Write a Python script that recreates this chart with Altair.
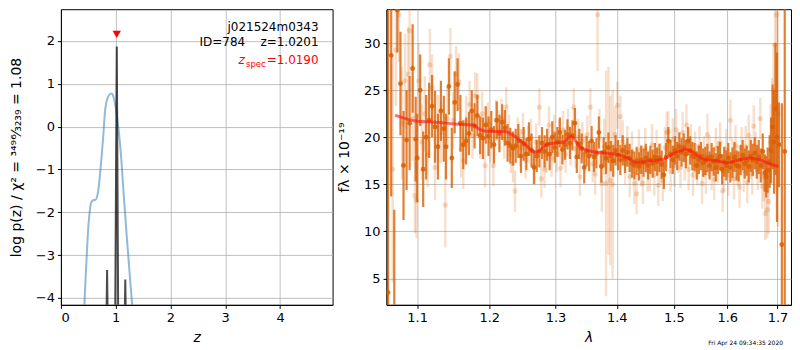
import altair as alt
import pandas as pd

# ---------------- left panel: redshift PDF ----------------
Z_PRIOR = [0.40, 0.43, 0.46, 0.49, 0.52, 0.55, 0.59, 0.63, 0.675, 0.72, 0.77, 0.81, 0.86, 0.90,
           0.92, 0.96, 1.00, 1.02, 1.05, 1.08, 1.11, 1.14, 1.17, 1.20, 1.235, 1.27, 1.30, 1.32]
LOGP_PRIOR = [-5.5, -4.14, -3.3, -2.54, -2.05, -1.78, -1.72, -1.71, -1.55, -1.02, -0.26, 0.42, 0.69, 0.76,
              0.77, 0.69, 0.45, 0.27, -0.05, -0.41, -0.9, -1.48, -2.0, -2.54, -3.1, -3.68, -4.16, -4.6]

Z_PZ = [0.78, 0.826, 0.843, 0.858, 0.90, 0.96, 0.99, 1.02, 1.046, 1.08, 1.14, 1.16, 1.175, 1.19, 1.22]
LOGP_PZ = [-9.0, -5.0, -3.35, -5.0, -9.0, -9.0, -4.6, 1.87, -4.6, -9.0, -9.0, -5.0, -3.57, -5.0, -9.0]

ZSPEC_X = [1.019]
ZSPEC_Y = [2.15]

Z_TICKS = [0, 1, 2, 3, 4]
LOGP_TICKS = [-4, -3, -2, -1, 0, 1, 2]

ANNOT_LINES = ["j021524m0343", "ID=784\u00a0\u00a0\u00a0\u00a0z=1.0201"]
ZSPEC_TEXT = ["z", "spec", "=1.0190"]
DATE_TEXT = ["Fri Apr 24 09:34:35 2020"]

# ---------------- right panel: spectrum ----------------
DARK_WAVE = [1.062, 1.066, 1.070, 1.074, 1.078, 1.082, 1.086, 1.090, 1.094, 1.098,
             1.100, 1.104, 1.108, 1.112, 1.116, 1.120, 1.124, 1.128, 1.132, 1.136,
             1.139, 1.143, 1.147, 1.151, 1.155, 1.159, 1.163, 1.167, 1.171, 1.175,
             1.179, 1.183, 1.187, 1.191, 1.195, 1.199, 1.203, 1.207, 1.211, 1.215,
             1.219, 1.223, 1.227, 1.231, 1.235, 1.239, 1.243, 1.247, 1.251, 1.255,
             1.259, 1.263, 1.267, 1.271, 1.275, 1.279, 1.283, 1.287, 1.291, 1.295,
             1.299, 1.303, 1.307, 1.311, 1.315, 1.319, 1.323, 1.327, 1.331, 1.334,
             1.338, 1.342, 1.346, 1.350, 1.354, 1.358, 1.362, 1.366, 1.370, 1.374,
             1.378, 1.382, 1.386, 1.390, 1.394, 1.398, 1.402, 1.406, 1.410, 1.414,
             1.418, 1.422, 1.426, 1.430, 1.434, 1.438, 1.442, 1.446, 1.450, 1.454,
             1.458, 1.462, 1.466, 1.470, 1.474, 1.478, 1.482, 1.486, 1.490, 1.494,
             1.498, 1.502, 1.506, 1.510, 1.514, 1.518, 1.522, 1.526, 1.530, 1.534,
             1.538, 1.542, 1.546, 1.550, 1.554, 1.558, 1.562, 1.566, 1.570, 1.574,
             1.578, 1.582, 1.586, 1.590, 1.594, 1.598, 1.602, 1.606, 1.610, 1.614,
             1.618, 1.622, 1.626, 1.630, 1.634, 1.638, 1.642, 1.646, 1.650, 1.654,
             1.658, 1.662, 1.666, 1.670, 1.674, 1.677, 1.680, 1.684, 1.687, 1.690,
             1.693, 1.696, 1.699, 1.703, 1.709, 1.715]
DARK_FLUX = [3.5, 28.7, 0.0, 33.5, 25.7, 17.0, 19.7, 21.5, 27.3, 19.8,
             17.8, 25.0, 16.6, 20.0, 21.8, 23.3, 21.1, 19.0, 22.8, 20.9,
             19.0, 25.4, 17.8, 23.7, 25.6, 21.5, 19.2, 19.6, 20.4, 22.8,
             21.2, 22.3, 20.2, 19.9, 21.3, 20.1, 20.8, 19.2, 21.8, 20.4,
             21.6, 21.0, 19.4, 19.1, 18.8, 19.1, 19.6, 18.0, 19.3, 18.2,
             19.8, 18.6, 16.8, 18.0, 18.5, 19.4, 18.5, 19.2, 18.2, 20.0,
             18.9, 19.5, 20.5, 18.7, 19.2, 20.3, 19.4, 20.2, 21.5, 17.9,
             19.3, 18.8, 16.8, 18.5, 18.0, 19.6, 17.9, 18.3, 20.5, 16.9,
             18.4, 17.8, 18.9, 18.0, 17.5, 18.6, 18.1, 17.6, 18.6, 17.7,
             18.4, 17.8, 17.2, 17.0, 17.5, 16.9, 17.6, 17.3, 17.8, 17.0,
             17.6, 17.2, 17.9, 17.4, 17.8, 17.1, 16.0, 17.9, 19.6, 18.2,
             17.6, 18.6, 18.0, 19.0, 18.4, 18.9, 18.2, 19.6, 18.6, 18.0,
             17.9, 17.0, 17.6, 18.0, 17.3, 17.5, 17.8, 17.0, 17.9, 17.4,
             16.8, 17.6, 18.0, 16.6, 17.4, 17.0, 17.8, 16.8, 17.3, 17.9,
             17.0, 16.9, 17.6, 18.1, 17.2, 17.5, 16.9, 18.0, 17.6, 18.3,
             17.4, 17.9, 17.0, 18.5, 16.2, 15.8, 16.5, 17.4, 18.6, 21.1,
             19.5, 23.0, 20.0, 19.2, 8.6, 18.5]
DARK_ERR = [30.0, 15.0, 12.3, 4.5, 5.5, 5.8, 5.3, 5.0, 4.7, 4.5,
            4.7, 3.8, 4.0, 4.5, 4.0, 3.3, 3.8, 3.5, 3.2, 3.5,
            3.5, 3.0, 3.2, 3.3, 2.8, 3.0, 2.6, 2.5, 2.3, 2.2,
            2.4, 2.2, 2.0, 2.2, 2.0, 2.1, 2.0, 2.0, 2.0, 2.0,
            1.9, 1.9, 2.0, 1.9, 1.8, 1.8, 1.8, 1.8, 1.8, 1.7,
            1.8, 1.8, 1.8, 1.7, 1.7, 1.7, 1.7, 1.7, 1.7, 1.7,
            1.6, 1.6, 1.6, 1.6, 1.6, 1.6, 1.7, 1.6, 1.6, 1.7,
            1.6, 1.6, 1.7, 1.6, 1.6, 1.6, 1.6, 1.6, 1.7, 1.7,
            1.6, 1.7, 1.6, 1.6, 1.7, 1.6, 1.6, 1.6, 1.6, 1.5,
            1.5, 1.5, 1.5, 1.5, 1.5, 1.5, 1.5, 1.5, 1.5, 1.5,
            1.5, 1.5, 1.5, 1.5, 1.5, 1.5, 1.5, 1.5, 1.5, 1.5,
            1.5, 1.5, 1.5, 1.5, 1.5, 1.5, 1.5, 1.5, 1.5, 1.5,
            1.5, 1.5, 1.5, 1.5, 1.5, 1.5, 1.5, 1.5, 1.5, 1.5,
            1.5, 1.5, 1.5, 1.6, 1.6, 1.6, 1.6, 1.6, 1.6, 1.6,
            1.6, 1.6, 1.6, 1.6, 1.6, 1.6, 1.7, 1.7, 1.7, 1.7,
            1.8, 1.8, 1.8, 1.9, 2.0, 2.2, 2.4, 2.8, 3.5, 4.5,
            5.5, 7.0, 9.0, 4.5, 15.0, 30.0]

LIGHT_WAVE = [1.068, 1.072, 1.076, 1.080, 1.084, 1.088, 1.090, 1.094, 1.097, 1.099,
              1.102, 1.106, 1.110, 1.114, 1.117, 1.120, 1.124, 1.128, 1.132, 1.138,
              1.141, 1.145, 1.149, 1.153, 1.157, 1.160, 1.163, 1.167, 1.172, 1.176,
              1.180, 1.183, 1.187, 1.190, 1.194, 1.198, 1.202, 1.206, 1.210, 1.214,
              1.218, 1.222, 1.225, 1.229, 1.232, 1.235, 1.238, 1.242, 1.246, 1.250,
              1.254, 1.258, 1.262, 1.266, 1.270, 1.275, 1.278, 1.283, 1.286, 1.290,
              1.294, 1.298, 1.302, 1.306, 1.308, 1.312, 1.316, 1.320, 1.324, 1.329,
              1.332, 1.336, 1.339, 1.343, 1.347, 1.351, 1.356, 1.360, 1.364, 1.368,
              1.371, 1.375, 1.379, 1.382, 1.386, 1.389, 1.393, 1.397, 1.401, 1.406,
              1.410, 1.414, 1.418, 1.422, 1.426, 1.430, 1.434, 1.438, 1.442, 1.445,
              1.449, 1.453, 1.457, 1.461, 1.465, 1.469, 1.472, 1.476, 1.480, 1.484,
              1.487, 1.490, 1.494, 1.498, 1.501, 1.504, 1.508, 1.512, 1.516, 1.520,
              1.523, 1.527, 1.531, 1.535, 1.539, 1.543, 1.547, 1.552, 1.556, 1.559,
              1.562, 1.566, 1.570, 1.575, 1.578, 1.582, 1.586, 1.591, 1.594, 1.598,
              1.602, 1.606, 1.610, 1.613, 1.616, 1.620, 1.624, 1.628, 1.632, 1.636,
              1.639, 1.642, 1.646, 1.649, 1.652, 1.656, 1.660, 1.665, 1.669, 1.672,
              1.675, 1.679, 1.682, 1.686, 1.689, 1.692, 1.695, 1.698, 1.701]
LIGHT_FLUX = [16.6, 29.3, 33.0, 21.5, 26.0, 26.7, 31.3, 22.0, 13.8, 13.3,
              26.0, 19.5, 22.5, 18.2, 27.7, 25.3, 16.8, 21.0, 20.5, 12.8,
              22.0, 28.6, 21.8, 26.7, 25.9, 18.7, 17.5, 21.6, 23.5, 20.2,
              24.4, 24.3, 20.0, 22.5, 17.0, 21.5, 19.5, 17.0, 21.8, 20.8,
              22.0, 19.8, 23.2, 20.4, 18.2, 17.2, 14.3, 20.1, 18.9, 20.6,
              17.6, 19.2, 20.0, 17.0, 19.5, 23.2, 15.6, 16.6, 18.2, 21.3,
              17.8, 20.4, 18.3, 19.9, 16.7, 20.8, 18.2, 21.0, 19.0, 23.2,
              18.8, 20.0, 15.8, 19.6, 18.2, 20.3, 23.2, 17.2, 16.1, 33.0,
              20.0, 15.1, 19.0, 15.1, 17.5, 15.4, 15.0, 20.3, 23.4, 22.2,
              19.6, 17.2, 19.0, 15.8, 18.4, 15.1, 14.0, 18.6, 17.0, 15.1,
              18.8, 16.4, 16.5, 19.2, 16.0, 18.6, 14.9, 17.2, 15.4, 18.9,
              20.5, 20.6, 16.4, 19.8, 17.0, 20.8, 18.4, 16.8, 20.5, 17.6,
              21.3, 16.6, 19.2, 16.0, 18.4, 17.1, 19.0, 15.1, 17.9, 16.2,
              20.3, 18.0, 16.6, 15.5, 18.8, 17.4, 19.4, 14.3, 16.4, 18.7,
              16.0, 21.8, 17.6, 15.6, 19.1, 17.0, 14.7, 18.9, 16.4, 19.0,
              15.2, 20.2, 17.8, 16.1, 21.2, 18.4, 16.6, 22.0, 14.8, 15.8,
              11.9, 12.3, 13.2, 19.5, 21.8, 25.0, 29.8, 33.0, 22.5]
LIGHT_ERR = [12.0, 6.0, 5.0, 6.0, 5.0, 5.0, 4.5, 4.5, 4.0, 4.0,
             4.0, 4.0, 4.0, 3.5, 3.8, 3.5, 3.5, 3.5, 3.3, 4.5,
             3.3, 3.0, 3.0, 3.0, 3.0, 3.0, 3.0, 2.8, 2.5, 2.5,
             2.5, 2.5, 2.3, 2.3, 2.3, 2.2, 2.2, 2.2, 2.2, 2.1,
             2.1, 2.1, 2.1, 2.0, 2.0, 2.0, 2.2, 2.0, 2.0, 2.0,
             2.0, 2.0, 2.0, 2.0, 2.0, 2.0, 2.0, 2.0, 2.0, 2.0,
             2.0, 2.0, 2.0, 2.0, 2.0, 2.0, 2.0, 2.0, 2.0, 2.0,
             2.0, 2.0, 2.0, 2.0, 2.0, 2.0, 2.0, 2.0, 2.2, 6.0,
             3.0, 3.0, 3.0, 12.0, 10.0, 9.0, 10.0, 3.0, 2.5, 2.2,
             2.2, 2.2, 2.2, 2.2, 2.2, 2.2, 2.2, 2.2, 2.2, 2.2,
             2.2, 2.2, 2.2, 2.2, 2.2, 2.2, 2.2, 2.2, 2.2, 2.2,
             2.2, 2.2, 2.2, 2.2, 2.2, 2.2, 2.2, 2.2, 2.2, 2.2,
             2.2, 2.2, 2.2, 2.2, 2.2, 2.2, 2.2, 2.2, 2.2, 2.2,
             2.2, 2.2, 2.2, 2.2, 2.2, 2.2, 2.2, 2.2, 2.2, 2.2,
             2.2, 2.2, 2.2, 2.2, 2.2, 2.2, 2.2, 2.2, 2.2, 2.2,
             2.2, 2.2, 2.2, 2.2, 2.2, 2.2, 2.2, 2.2, 2.4, 2.6,
             2.8, 3.0, 3.5, 4.0, 4.5, 5.0, 7.0, 10.0, 12.0]

MODEL_WAVE = [1.071, 1.100, 1.124, 1.152, 1.177, 1.187, 1.199, 1.223, 1.247, 1.270,
              1.288, 1.313, 1.325, 1.340, 1.367, 1.400, 1.417, 1.434, 1.457, 1.478,
              1.500, 1.522, 1.535, 1.553, 1.578, 1.600, 1.616, 1.642, 1.665, 1.682, 1.702]
MODEL_FLUX = [22.36, 21.7, 21.6, 21.4, 21.3, 20.8, 20.6, 20.6, 19.6, 18.4,
              19.3, 19.5, 20.1, 18.9, 18.4, 18.2, 17.85, 17.3, 17.5, 17.6,
              18.3, 18.7, 18.4, 17.7, 17.5, 17.3, 17.5, 17.8, 17.6, 17.2, 16.9]

WAVE_TICKS = [1.1, 1.2, 1.3, 1.4, 1.5, 1.6, 1.7]
FLUX_TICKS = [5, 10, 15, 20, 25, 30]

# ---------------- tables ----------------
prior_df = pd.DataFrame({"z": Z_PRIOR, "lp": LOGP_PRIOR})
pz_df = pd.DataFrame({"z": Z_PZ, "lp": LOGP_PZ})
zspec_df = pd.DataFrame({"z": ZSPEC_X, "lp": ZSPEC_Y})

n = min(len(DARK_WAVE), len(DARK_FLUX), len(DARK_ERR))
dark_df = pd.DataFrame({"wave": DARK_WAVE[:n], "flux": DARK_FLUX[:n], "err": DARK_ERR[:n]})
dark_df["lo"] = dark_df["flux"] - dark_df["err"]
dark_df["hi"] = dark_df["flux"] + dark_df["err"]
m = min(len(LIGHT_WAVE), len(LIGHT_FLUX), len(LIGHT_ERR))
light_df = pd.DataFrame({"wave": LIGHT_WAVE[:m], "flux": LIGHT_FLUX[:m], "err": LIGHT_ERR[:m]})
light_df["lo"] = light_df["flux"] - light_df["err"]
light_df["hi"] = light_df["flux"] + light_df["err"]
model_df = pd.DataFrame({"wave": MODEL_WAVE, "flux": MODEL_FLUX})

FONT = "DejaVu Sans"
ORANGE = "#d95f02"

# ---------------- left panel ----------------
zx = alt.X("z:Q", scale=alt.Scale(domain=[0, 4.96], nice=False, zero=False),
           axis=alt.Axis(values=Z_TICKS, title="z", titleFontStyle="italic", titlePadding=6))
zy = alt.Y("lp:Q", scale=alt.Scale(domain=[-4.16, 2.74], nice=False, zero=False),
           axis=alt.Axis(values=LOGP_TICKS, title="log p(z) / χ² = ³⁴⁹⁶⁄₃₂₃₉ = 1.08", titlePadding=12))

prior_line = alt.Chart(prior_df).mark_line(
    color="#1f77b4", opacity=0.5, strokeWidth=2, clip=True, interpolate="monotone"
).encode(x=zx, y=zy)
pz_line = alt.Chart(pz_df).mark_line(
    color="black", opacity=0.7, strokeWidth=2, clip=True
).encode(x=zx, y=zy)
zspec_mark = alt.Chart(zspec_df).mark_point(
    shape="triangle-down", filled=True, color="red", size=70, opacity=1
).encode(x=zx, y=zy)


def label(txt, x, y, size=12, color="black", style="normal", align="right"):
    df = pd.DataFrame({"t": [txt]})
    return alt.Chart(df).mark_text(
        align=align, baseline="middle", font=FONT, fontSize=size, color=color, fontStyle=style
    ).encode(x=alt.value(x), y=alt.value(y), text="t:N")


left = alt.layer(
    prior_line, pz_line, zspec_mark,
    label(ANNOT_LINES[0], 258, 18),
    label(ANNOT_LINES[1], 258, 33),
    label(ZSPEC_TEXT[0], 184, 51, color="red", style="italic"),
    label(ZSPEC_TEXT[1], 205, 55, size=8.5, color="red"),
    label(ZSPEC_TEXT[2], 258, 51, color="red"),
).properties(width=272, height=296)

# ---------------- right panel ----------------
FLUX_SCALE = alt.Scale(domain=[2.2, 33.6], nice=False, zero=False)
FLUX_AXIS = alt.Axis(values=FLUX_TICKS, title="fλ × 10⁻¹⁹", titlePadding=12)
wx = alt.X("wave:Q", scale=alt.Scale(type="log", domain=[1.06, 1.728], nice=False, zero=False),
           axis=alt.Axis(values=WAVE_TICKS, format=".1f", title="λ", titleFontStyle="italic",
                         titlePadding=6))


def fy(field):
    return alt.Y(f"{field}:Q", scale=FLUX_SCALE, axis=FLUX_AXIS)


light_bars = alt.Chart(light_df).mark_rule(color=ORANGE, opacity=0.2, strokeWidth=2.4, clip=True).encode(
    x=wx, y=fy("lo"), y2="hi:Q")
light_pts = alt.Chart(light_df).mark_circle(color=ORANGE, opacity=0.22, size=26, clip=True).encode(
    x=wx, y=fy("flux"))
dark_bars = alt.Chart(dark_df).mark_rule(color=ORANGE, opacity=0.8, strokeWidth=2.2, clip=True).encode(
    x=wx, y=fy("lo"), y2="hi:Q")
dark_pts = alt.Chart(dark_df).mark_circle(color=ORANGE, opacity=0.85, size=24, clip=True).encode(
    x=wx, y=fy("flux"))
model_line = alt.Chart(model_df).mark_line(
    color="#ff1010", opacity=0.6, strokeWidth=3, clip=True, interpolate="monotone"
).encode(x=wx, y=fy("flux"))

right = alt.layer(
    light_bars, light_pts, dark_bars, dark_pts, model_line,
    label(DATE_TEXT[0], 397, 334, size=6),
).properties(width=405, height=296)

chart = alt.hconcat(left, right, spacing=3).properties(
    padding=0
).configure(font=FONT).configure_view(
    stroke="black", strokeWidth=1
).configure_axis(
    labelFont=FONT, titleFont=FONT, labelFontSize=13, titleFontSize=14,
    titleFontWeight="normal", labelColor="black", titleColor="black",
    domainColor="black", tickColor="black", tickSize=3.5, labelPadding=3,
    grid=True, gridColor="#b0b0b0", gridWidth=0.8,
)

chart.save("out.html", embed_options={"renderer": "svg", "actions": False})
